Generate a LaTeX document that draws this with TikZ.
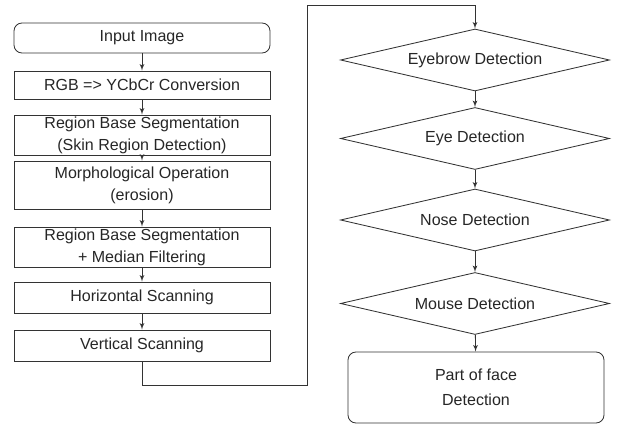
\documentclass[tikz,border=0pt]{standalone}
\usepackage{fontspec}
\setmainfont{Liberation Sans}
\usepackage{tikz}
\usetikzlibrary{positioning}
\usetikzlibrary{shapes,arrows}

\tikzset{
  procbox/.style={draw=black!80, line width=0.6pt, rectangle, minimum width=6.4cm,
    inner sep=0pt, align=center, text=black!85, font=\fontsize{11.4}{15.6}\selectfont},
  startbox/.style={procbox, rounded corners=0.2cm},
  testbox/.style={draw=black!80, line width=0.6pt, diamond, aspect=4.3, minimum width=6.725cm,
    minimum height=1.55cm, inner sep=0pt, text=black!85, font=\fontsize{11.4}{15.6}\selectfont},
  link/.style={draw=black!80, line width=0.6pt}
}

\begin{document}
\begin{tikzpicture}[auto, >=latex']
		\useasboundingbox (0cm,0cm) rectangle (15.475cm,10.6cm);

		% Preprocessing column
		\node [startbox, minimum height=0.75cm] (input) at (3.55cm,9.65cm) {Input Image};
		\node [procbox, minimum height=0.7cm] (ycbcr) at (3.55cm,8.475cm) {RGB => YCbCr Conversion};
		\node [procbox, minimum height=1.0cm] (skin) at (3.55cm,7.225cm) {Region Base Segmentation\\(Skin Region Detection)};
		\node [procbox, minimum height=1.2cm] (morph) at (3.55cm,5.975cm) {Morphological Operation\\(erosion)};
		\node [procbox, minimum height=1.0cm] (median) at (3.55cm,4.425cm) {Region Base Segmentation\\+ Median Filtering};
		\node [procbox, minimum height=0.775cm] (hscan) at (3.55cm,3.1625cm) {Horizontal Scanning};
		\node [procbox, minimum height=0.775cm] (vscan) at (3.55cm,1.9625cm) {Vertical Scanning};

		% Detection column
		\node [testbox] (eyebrow) at (11.875cm,9.1cm) {Eyebrow Detection};
		\node [testbox] (eye) at (11.875cm,7.1375cm) {Eye Detection};
		\node [testbox] (nose) at (11.875cm,5.1cm) {Nose Detection};
		\node [testbox] (mouse) at (11.875cm,3.0125cm) {Mouse Detection};
		\node [startbox, minimum height=1.775cm] (face) at (11.9cm,0.9125cm) {Part of face\\[2pt]Detection};

		% Arrows down the left column
		\draw [link,->] (input) -- (ycbcr);
		\draw [link,->] (ycbcr) -- (skin);
		\draw [link,->] (skin) -- (morph);
		\draw [link,->] (morph) -- (median);
		\draw [link,->] (median) -- (hscan);
		\draw [link,->] (hscan) -- (vscan);

		% Jump to the right column
		\coordinate (turnlow) at (7.675cm,0.975cm);
		\coordinate (turnhigh) at (7.675cm,10.475cm);
		\draw [link,->] (vscan.south) |- (turnlow) -- (turnhigh) -| (eyebrow.north);

		% Arrows down the right column
		\draw [link,->] (eyebrow) -- (eye);
		\draw [link,->] (eye) -- (nose);
		\draw [link,->] (nose) -- (mouse);
		\draw [link,->] (mouse) -- (face);
	\end{tikzpicture}
\end{document}
